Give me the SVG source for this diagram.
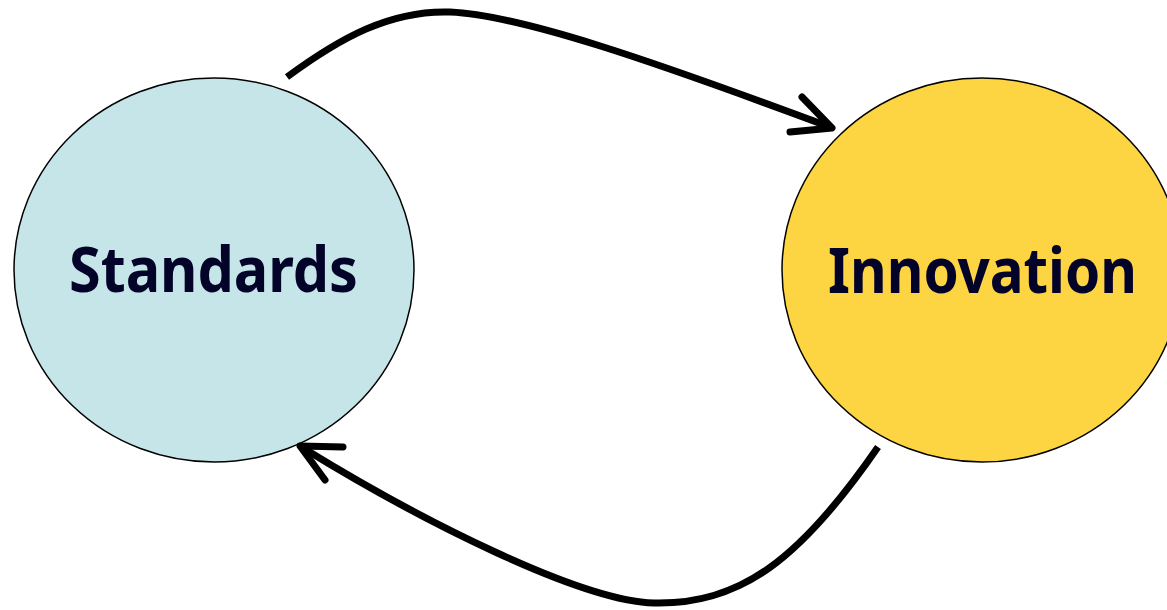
<svg xmlns="http://www.w3.org/2000/svg" width="1167" height="610" viewBox="0 0 1167 610">
<style>
.node{stroke:#000;stroke-width:1.5}
.lbl{font-family:"Noto Sans","Liberation Sans",sans-serif;font-weight:bold;font-size:62px;fill:#03032a;text-anchor:middle}
.conn{fill:none;stroke:#000;stroke-width:7}
.head{fill:none;stroke:#000;stroke-width:7;stroke-linecap:round;stroke-linejoin:round}
</style>
<rect width="1167" height="610" fill="#fff"/>
<g id="standards">
<ellipse class="node" cx="214" cy="270" rx="200" ry="192" fill="#c5e5e9"/>
<text class="lbl" x="213.5" y="292" textLength="289" lengthAdjust="spacingAndGlyphs">Standards</text>
</g>
<g id="innovation">
<ellipse class="node" cx="982" cy="270" rx="200" ry="192" fill="#fdd441"/>
<text class="lbl" x="982.5" y="293" textLength="309" lengthAdjust="spacingAndGlyphs">Innovation</text>
</g>
<g id="connectors">
<path class="conn" d="M287 77 C340 38 390 10 450 12 C520 15 650 60 830 127"/>
<path class="head" d="M802 97 L832 128 L790 132"/>
<path class="conn" d="M878 447 C800 560 740 605 654 603 C580 601 420 520 303 448"/>
<path class="head" d="M343 447 L300 446 L325 480"/>
</g>
</svg>
